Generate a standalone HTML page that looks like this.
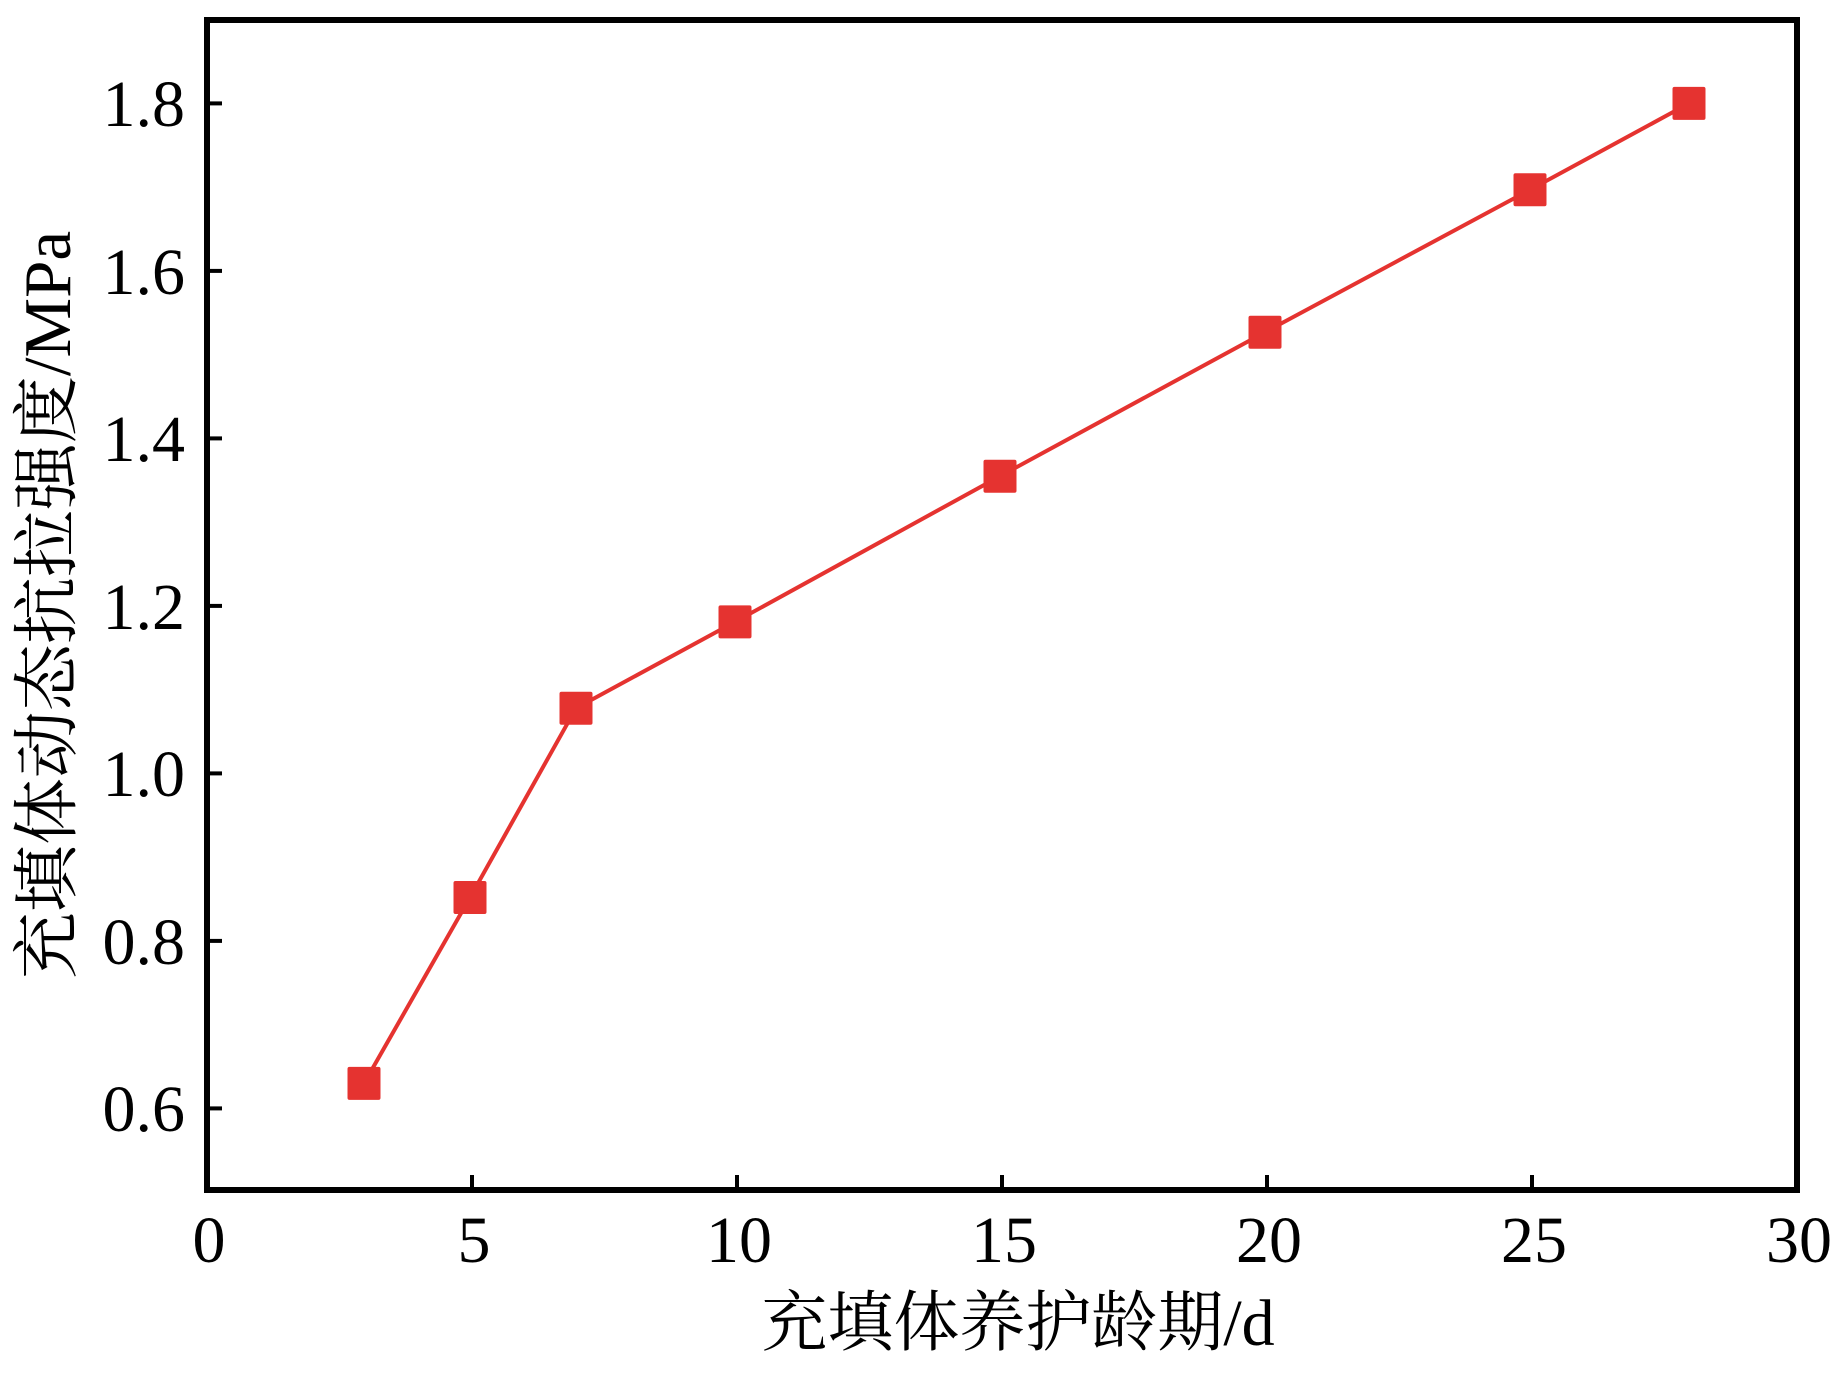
<!DOCTYPE html>
<html><head><meta charset="utf-8"><style>html,body{margin:0;padding:0;background:#fff}</style></head>
<body>
<svg width="1843" height="1368" xmlns="http://www.w3.org/2000/svg">
<g stroke="#000" stroke-width="4">
<line x1="207" y1="1108.4" x2="222" y2="1108.4"/>
<line x1="207" y1="940.9" x2="222" y2="940.9"/>
<line x1="207" y1="773.4" x2="222" y2="773.4"/>
<line x1="207" y1="605.9" x2="222" y2="605.9"/>
<line x1="207" y1="438.4" x2="222" y2="438.4"/>
<line x1="207" y1="270.9" x2="222" y2="270.9"/>
<line x1="207" y1="103.4" x2="222" y2="103.4"/>
<line x1="472" y1="1190" x2="472" y2="1175"/>
<line x1="737" y1="1190" x2="737" y2="1175"/>
<line x1="1002" y1="1190" x2="1002" y2="1175"/>
<line x1="1267" y1="1190" x2="1267" y2="1175"/>
<line x1="1532" y1="1190" x2="1532" y2="1175"/>
</g>
<rect x="207" y="20" width="1590" height="1170" fill="none" stroke="#000" stroke-width="6"/>
<g font-family="'Liberation Serif', serif" font-size="66" fill="#000" text-anchor="end">
<text x="185" y="1131">0.6</text>
<text x="185" y="964">0.8</text>
<text x="185" y="796">1.0</text>
<text x="185" y="629">1.2</text>
<text x="185" y="461">1.4</text>
<text x="185" y="294">1.6</text>
<text x="185" y="126">1.8</text>
</g>
<g font-family="'Liberation Serif', serif" font-size="66" fill="#000" text-anchor="middle">
<text x="209" y="1262">0</text>
<text x="474" y="1262">5</text>
<text x="739" y="1262">10</text>
<text x="1004" y="1262">15</text>
<text x="1269" y="1262">20</text>
<text x="1534" y="1262">25</text>
<text x="1799" y="1262">30</text>
</g>
<text x="1018" y="1345" text-anchor="middle" font-family="'Liberation Serif','Noto Serif CJK SC',serif" font-size="66" fill="#000">充填体养护龄期/d</text>
<text transform="translate(70,605) rotate(-90)" text-anchor="middle" font-family="'Liberation Serif','Noto Serif CJK SC',serif" font-size="67" fill="#000">充填体动态抗拉强度/MPa</text>
<polyline fill="none" stroke="#e53330" stroke-width="4" points="364,1083.4 470,897.5 576,708.2 735,621.9 1000,476.2 1265,332.2 1530,189.8 1689,103.4"/>
<g fill="#e53330">
<rect x="347.5" y="1066.9" width="33" height="33" rx="2"/>
<rect x="453.5" y="881" width="33" height="33" rx="2"/>
<rect x="559.5" y="691.7" width="33" height="33" rx="2"/>
<rect x="718.5" y="605.4" width="33" height="33" rx="2"/>
<rect x="983.5" y="459.7" width="33" height="33" rx="2"/>
<rect x="1248.5" y="315.7" width="33" height="33" rx="2"/>
<rect x="1513.5" y="173.3" width="33" height="33" rx="2"/>
<rect x="1672.5" y="86.9" width="33" height="33" rx="2"/>
</g>
</svg>
</body></html>
